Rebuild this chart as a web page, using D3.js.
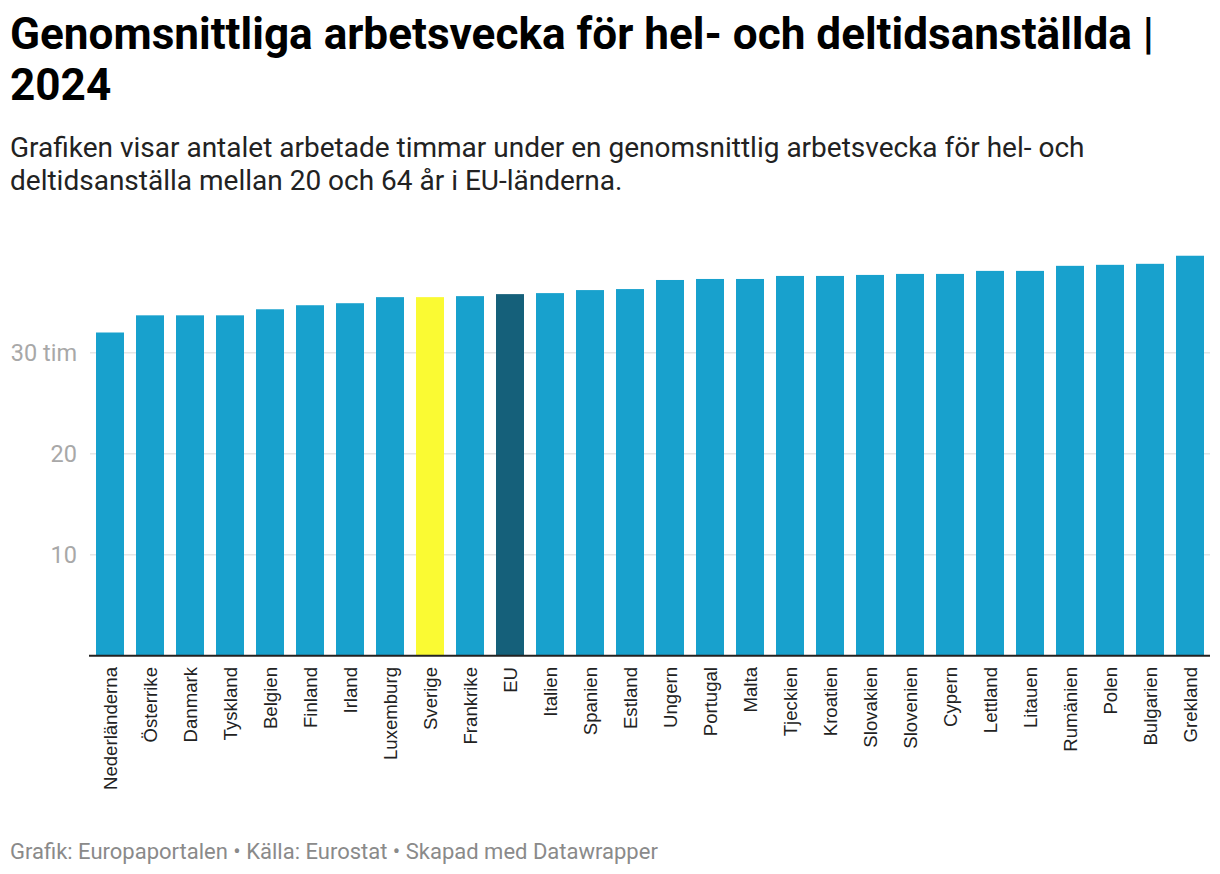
<!DOCTYPE html>
<html><head><meta charset="utf-8">
<script src="https://cdn.jsdelivr.net/npm/d3@7"></script>
<style>
body{margin:0;background:#fff;font-family:Roboto,"Noto Sans",sans-serif;}
svg text{font-family:Roboto,"Noto Sans",sans-serif;}
svg text.cat{font-family:"Liberation Sans",Arial,sans-serif;}
</style></head><body>
<svg id="c" width="1220" height="874"></svg>
<script>
const categories = ["Nederländerna","Österrike","Danmark","Tyskland","Belgien","Finland","Irland","Luxemburg","Sverige","Frankrike","EU","Italien","Spanien","Estland","Ungern","Portugal","Malta","Tjeckien","Kroatien","Slovakien","Slovenien","Cypern","Lettland","Litauen","Rumänien","Polen","Bulgarien","Grekland"];
const values = [32.0,33.7,33.7,33.7,34.3,34.7,34.9,35.5,35.5,35.6,35.8,35.9,36.2,36.3,37.2,37.3,37.3,37.6,37.6,37.7,37.8,37.8,38.1,38.1,38.6,38.7,38.8,39.6];
const yTicks = [10,20,30];
const yTickLabels = ["10","20","30 tim"];
const highlight = {"Sverige":"#fafa33","EU":"#15607a"};
const baseColor = "#18a1cd";

const svg = d3.select("#c");
svg.append("text").attr("x",10).attr("y",49).attr("font-size",44.1).attr("font-weight",700).attr("fill","#000")
  .text("Genomsnittliga arbetsvecka för hel- och deltidsanställda |");
svg.append("text").attr("x",10).attr("y",100).attr("font-size",44.1).attr("font-weight",700).attr("fill","#000")
  .text("2024");
svg.append("text").attr("x",10).attr("y",157).attr("font-size",28).attr("fill","#222")
  .text("Grafiken visar antalet arbetade timmar under en genomsnittlig arbetsvecka för hel- och");
svg.append("text").attr("x",10).attr("y",190).attr("font-size",28).attr("fill","#222")
  .text("deltidsanställa mellan 20 och 64 år i EU-länderna.");

const x = d3.scaleBand().domain(categories).range([90,1210]).paddingInner(0.3).paddingOuter(0.15);
const y = d3.scaleLinear().domain([0,10]).range([655.7,554.7]);

const gy = svg.append("g");
yTicks.forEach((t,i)=>{
  gy.append("line").attr("x1",90).attr("x2",1210).attr("y1",y(t)).attr("y2",y(t)).attr("stroke","#e6e6e6").attr("stroke-width",1.5);
  gy.append("text").attr("x",77).attr("y",y(t)).attr("dy","0.36em").attr("text-anchor","end")
    .attr("font-size",23.5).attr("fill","#a8a8a8").text(yTickLabels[i]);
});

svg.append("g").selectAll("rect").data(categories).join("rect")
  .attr("x",d=>x(d)).attr("width",x.bandwidth())
  .attr("y",(d,i)=>y(values[i])).attr("height",(d,i)=>y(0)-y(values[i]))
  .attr("fill",d=>highlight[d]||baseColor);

svg.append("line").attr("x1",89).attr("x2",1210).attr("y1",y(0)).attr("y2",y(0)).attr("stroke","#222").attr("stroke-width",2);

svg.append("g").selectAll("text").data(categories).join("text").attr("class","cat")
  .attr("transform",d=>`translate(${x(d)+x.bandwidth()/2},667) rotate(-90)`)
  .attr("text-anchor","end").attr("dy","0.35em").attr("font-size",18.6)
  .attr("fill","#222").text(d=>d);

svg.append("text").attr("x",10).attr("y",859).attr("font-size",22).attr("fill","#8a8a8a")
  .text("Grafik: Europaportalen • Källa: Eurostat • Skapad med Datawrapper");
</script></body></html>
